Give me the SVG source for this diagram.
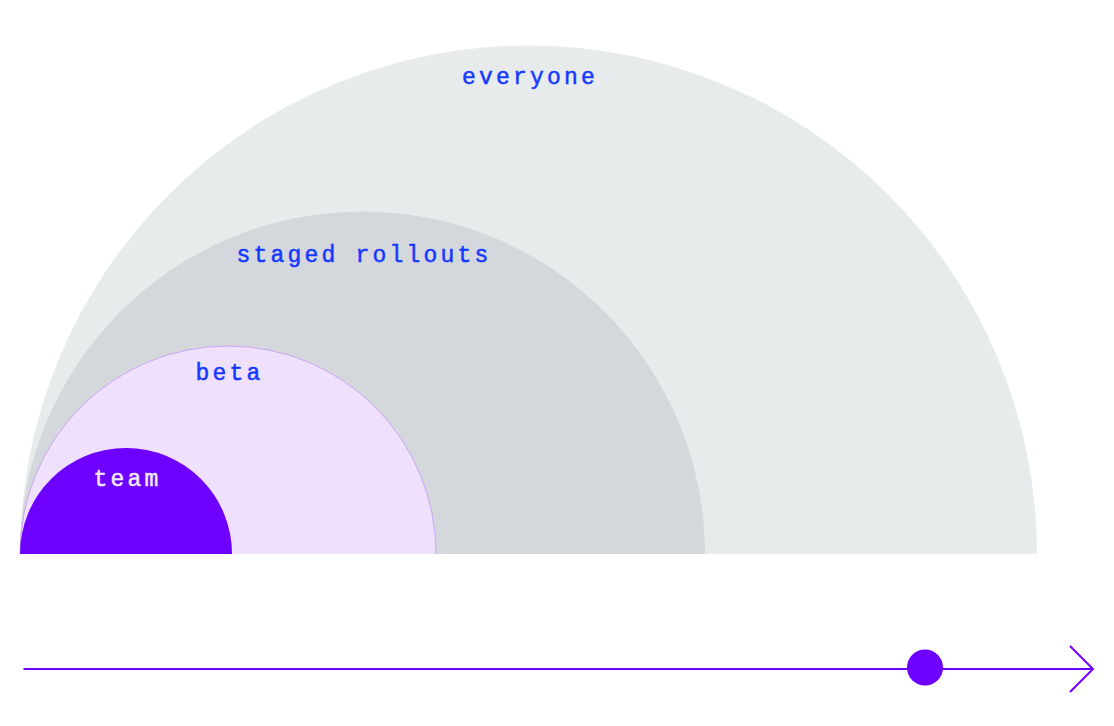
<svg xmlns="http://www.w3.org/2000/svg" width="1114" height="726" viewBox="0 0 1114 726">
<style>
.lbl{font-family:"Liberation Mono","DejaVu Sans Mono",monospace;font-size:23px;letter-spacing:3.2px;text-anchor:middle;fill:#1438ff;stroke:#1438ff;stroke-width:0.5}
.axis{stroke:#7000ff;stroke-width:2;fill:none}
</style>
<rect width="1114" height="726" fill="#ffffff"/>
<g id="everyone">
<path d="M20,554 A508.5,508.5 0 0 1 1037,554 Z" fill="#e8ebec"/>
<text class="lbl" x="530.1" y="84">everyone</text>
</g>
<g id="staged-rollouts">
<path d="M20,554 A342.5,342.5 0 0 1 705,554 Z" fill="#d4d7db"/>
<text class="lbl" x="364.1" y="262">staged rollouts</text>
</g>
<g id="beta">
<path d="M20,554 A208,208 0 0 1 436,554 Z" fill="#efe0fd"/>
<path d="M20,554 A208,208 0 0 1 436,554" fill="none" stroke="#c9a6f5" stroke-width="1"/>
<text class="lbl" x="229.6" y="380">beta</text>
</g>
<g id="team">
<path d="M20,554 A106,106 0 0 1 232,554 Z" fill="#6e00ff"/>
<text class="lbl" x="127.6" y="486" style="fill:#f3e8ff;stroke:#f3e8ff">team</text>
</g>
<g id="connectors">
<line class="axis" x1="23.5" y1="669" x2="1092" y2="669"/>
<polyline class="axis" points="1070,646 1093,669 1070,692"/>
<circle cx="925" cy="667.5" r="18" fill="#6e00ff"/>
</g>
</svg>
